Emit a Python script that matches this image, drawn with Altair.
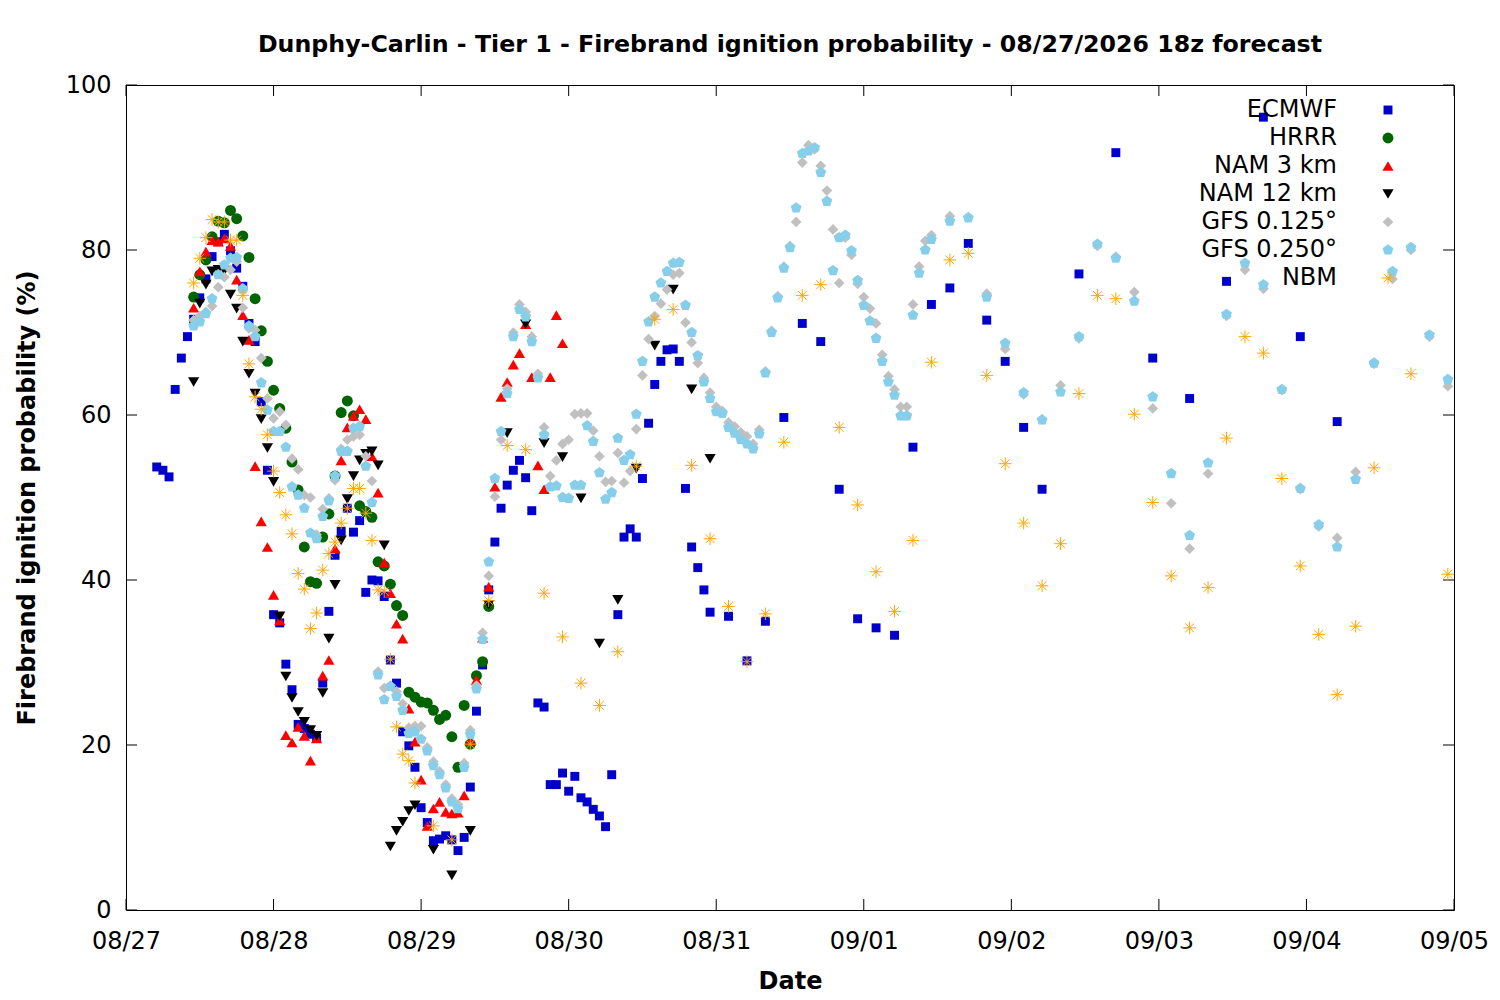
import altair as alt
import pandas as pd

# Hours after 08/27 00:00 (local), one time list per model run
ECMWF_HOURS = list(range(5, 96)) + list(range(98, 150, 3)) + list(range(155, 198, 6))
HRRR_HOURS = list(range(11, 60))
NAM3_HOURS = list(range(11, 72))
NAM12_HOURS = list(range(11, 48)) + list(range(50, 96, 3))
GFS_HOURS = list(range(11, 132)) + list(range(134, 216, 3))
NBM_HOURS = list(range(11, 48)) + list(range(50, 204, 3)) + [209, 215]

# Firebrand ignition probability (%)
ECMWF = [53.7, 53.3, 52.5, 63.1, 66.9, 69.5, 71.6, 74.2, 76.5, 79.2,
         81.0, 81.9, 79.9, 77.8, 75.6, 71.1, 68.9, 61.6, 53.3, 35.8,
         34.8, 29.8, 26.7, 22.5, 22.0, 21.3, 20.8, 27.5, 36.2, 43.0,
         45.9, 48.7, 45.8, 47.2, 38.5, 40.0, 39.9, 38.0, 30.3, 27.5,
         21.6, 19.9, 17.3, 12.4, 10.6, 8.4, 8.6, 9.0, 8.5, 7.2,
         8.8, 14.9, 24.1, 29.7, 38.8, 44.6, 48.7, 51.5, 53.3, 54.5,
         52.4, 48.4, 25.1, 24.6, 15.2, 15.2, 16.6, 14.4, 16.2, 13.6,
         13.1, 12.2, 11.4, 10.1, 16.4, 35.8, 45.2, 46.2, 45.2, 52.3,
         59.0, 63.7, 66.5, 67.9, 68.0, 66.5, 51.1, 44.0, 41.5, 38.8,
         36.1,
         35.6, 30.2, 35.0, 59.7, 71.1, 68.9, 51.0, 35.3, 34.2, 33.3,
         56.1, 73.4, 75.4, 80.8, 71.5, 66.5, 58.5, 51.0,
         77.1, 91.8, 66.9, 62.0, 76.2, 96.1, 69.5, 59.2]

HRRR = [74.3, 77.0, 78.8, 81.6, 83.5, 83.3, 84.8, 83.8, 81.7, 79.1,
        74.1, 70.2, 66.5, 63.0, 60.8, 58.4, 54.3, 50.9, 44.0, 39.8,
        39.6, 45.2, 48.0, 52.6, 60.3, 61.7, 59.9, 49.0, 48.3, 47.6,
        42.2, 41.7, 39.5, 36.9, 35.7, 26.4, 25.8, 25.2, 25.1, 24.2,
        23.1, 23.6, 21.0, 17.3, 24.8, 20.1, 28.4, 30.1, 36.8]

NAM3 = [73.0, 77.4, 79.8, 81.2, 81.0, 81.4, 80.5, 76.4, 72.1, 69.1,
        53.8, 47.1, 44.0, 38.2, 35.1, 21.2, 20.3, 22.2, 21.1, 18.1,
        20.8, 28.4, 30.3, 43.8, 54.5, 58.5, 59.9, 60.7, 59.5, 55.0,
        50.6, 42.1, 38.4, 34.7, 32.9, 24.4, 20.4, 15.8, 10.2, 12.3,
        13.1, 11.9, 11.7, 11.8, 13.9, 20.5, 27.9, 33.0, 39.2, 51.3,
        62.2, 64.0, 66.1, 67.5, 71.0, 64.6, 53.9, 51.0, 64.6, 72.1,
        68.7]

NAM12 = [64.0, 73.5, 75.8, 77.4, 77.6, 77.5, 74.6, 72.9, 68.9, 65.0,
         62.6, 59.5, 56.0, 51.9, 35.6, 28.3, 25.7, 24.0, 22.8, 21.8,
         21.1, 26.3, 32.9, 39.4, 44.8, 49.8, 52.6, 54.5, 55.3, 55.6,
         53.9, 44.2, 7.7, 9.6, 10.7, 12.0, 12.7,
         7.3, 4.2, 9.6, 37.0, 57.8, 71.0, 56.6, 54.9, 49.9, 32.3,
         37.6, 53.5, 68.4, 75.2, 63.1, 54.7]

GFS_0125 = [71.5, 72.0, 72.5, 73.2, 75.5, 76.7, 77.6, 78.6, 73.0, 70.5,
            70.3, 66.9, 62.0, 59.6, 60.4, 58.8, 54.7, 53.4, 50.3, 50.0,
            45.5, 48.6, 49.9, 52.1, 55.9, 57.0, 57.4, 57.6, 55.0, 52.0,
            28.9, 26.9, 27.2, 26.5, 25.0, 22.1, 22.3, 22.3, 19.7, 18.0,
            16.8, 15.2, 13.5, 12.8, 17.8, 21.8, 27.2, 33.6, 40.5, 50.1,
            57.0, 63.2, 70.0, 73.4, 72.5, 69.5, 65.0, 58.5, 52.6, 54.5,
            56.5, 57.0, 60.1, 60.2, 60.2, 58.1, 55.0, 51.9, 52.0, 55.4,
            51.8, 53.2, 58.3, 64.8, 69.2, 72.0, 73.5, 75.2, 77.0, 77.2,
            71.2, 68.8, 66.3, 64.5, 62.7, 61.0, 60.5, 59.1, 58.6, 57.9,
            57.4, 56.5, 58.2, 65.3, 70.2, 74.4, 78.0, 80.5, 83.4, 90.6,
            92.7, 92.2, 90.2, 87.2, 82.5, 76.0, 81.5, 79.4, 75.9, 74.3,
            72.9, 71.1, 67.3, 64.7, 63.1, 61.0, 61.0, 73.4, 78.0, 81.1,
            81.8,
            84.1, 84.0, 74.7, 68.0, 62.5, 59.5, 63.6, 69.3, 80.5, 79.2,
            74.9, 60.8, 49.3, 43.8, 52.9, 72.0, 77.6, 75.3, 63.0, 51.0,
            46.5, 45.1, 53.1, 66.2, 76.5, 80.0, 69.5, 63.5]

GFS_0250 = [70.8, 71.3, 72.3, 74.1, 77.0, 78.2, 79.0, 79.1, 75.3, 70.8,
            69.5, 63.9, 60.6, 58.0, 58.0, 56.1, 51.3, 50.3, 48.7, 45.7,
            45.0, 47.7, 49.6, 52.6, 55.6, 55.6, 58.4, 58.6, 53.8, 49.4,
            28.5, 25.5, 27.1, 25.9, 24.2, 21.4, 21.6, 20.7, 19.3, 17.5,
            16.4, 14.8, 13.1, 12.3, 17.3, 21.3, 26.8, 32.8, 42.2, 52.3,
            58.0, 62.6, 69.5, 72.8, 71.9, 68.9, 64.5, 57.6, 51.3, 51.4,
            50.0, 49.9, 51.5, 51.5, 58.7, 56.8, 53.0, 49.8, 50.6, 57.2,
            54.5, 55.2, 60.1, 66.5, 71.3, 74.3, 76.0, 77.4, 78.4, 78.5,
            73.3, 70.0, 67.2, 64.0, 62.0, 60.4, 60.2, 58.5, 57.8, 57.0,
            56.5, 55.9, 57.7, 65.1, 70.0, 74.2, 77.8, 80.3, 85.1, 91.7,
            92.0, 92.4, 89.4, 85.9, 77.5, 81.5, 81.8, 79.9, 76.3, 73.3,
            71.4, 69.3, 66.5, 64.0, 62.4, 59.9, 59.9, 72.1, 77.2, 80.0,
            81.3,
            83.5, 83.9, 74.3, 68.7, 62.7, 59.4, 62.8, 69.5, 80.7, 79.0,
            73.8, 62.2, 52.9, 45.4, 54.2, 72.2, 78.4, 75.8, 63.1, 51.1,
            46.7, 44.0, 52.2, 66.3, 77.4, 80.3, 69.7, 64.3]

NBM = [76.0, 79.0, 81.5, 83.7, 83.4, 83.4, 81.2, 81.2, 74.5, 66.2,
       62.2, 60.7, 57.6, 53.2, 50.6, 47.9, 45.6, 40.8, 38.9, 34.1,
       36.0, 41.2, 43.2, 44.6, 46.9, 48.7, 51.1, 51.1, 48.1, 44.8,
       38.8, 38.6, 30.4, 22.2, 18.9, 18.1, 15.4,
       10.2, 8.5, 20.1, 37.5, 56.3, 55.8, 38.4, 33.1, 27.5, 24.8,
       31.3, 53.8, 71.6, 72.8, 53.9, 45.0, 36.8, 30.1, 35.9, 56.7,
       74.5, 75.8, 58.5, 49.1, 41.0, 36.2, 44.8, 66.4, 78.8, 79.6,
       64.8, 54.1, 46.9, 39.3, 44.4, 62.6, 74.5, 74.1, 60.1, 49.4,
       40.5, 34.2, 39.1, 57.2, 69.5, 67.5, 52.3, 41.7, 33.4, 26.1,
       34.4, 53.6,
       65.0, 40.7]

DAY_HOURS = [0, 24, 48, 72, 96, 120, 144, 168, 192, 216]
DAY_LABELS = ["08/27", "08/28", "08/29", "08/30", "08/31",
              "09/01", "09/02", "09/03", "09/04", "09/05"]
PROB_TICKS = [0, 20, 40, 60, 80, 100]

MODELS = ["ECMWF", "HRRR", "NAM 3 km", "NAM 12 km", "GFS 0.125°", "GFS 0.250°", "NBM"]

FONT = "DejaVu Sans"
FS = 24
W, H = 1328, 825
TICK = 11

PENTAGON = "M0,-1L0.951,-0.309L0.588,0.809L-0.588,0.809L-0.951,-0.309Z"
STAR = "M-1,0L1,0M0,-1L0,1M-0.7,-0.7L0.7,0.7M-0.7,0.7L0.7,-0.7"

# marker style per model, in gnuplot drawing order
STYLES = [
    dict(shape="square", filled=True, color="#0000cd", size=80),
    dict(shape="circle", filled=True, color="#006400", size=120),
    dict(shape="triangle-up", filled=True, color="#ff0000", size=125),
    dict(shape="triangle-down", filled=True, color="#000000", size=125),
    dict(shape="diamond", filled=True, color="#c0c0c0", size=115),
    dict(shape=PENTAGON, filled=True, color="#87ceeb", size=130),
    dict(shape=STAR, filled=False, color="#ffa500", size=160, strokeWidth=1),
]
SERIES = [(ECMWF_HOURS, ECMWF), (HRRR_HOURS, HRRR), (NAM3_HOURS, NAM3),
          (NAM12_HOURS, NAM12), (GFS_HOURS, GFS_0125), (GFS_HOURS, GFS_0250),
          (NBM_HOURS, NBM)]

label_expr = "[" + ",".join("'%s'" % d for d in DAY_LABELS) + "][round(datum.value / 24)]"

X = alt.X("hour:Q",
          scale=alt.Scale(domain=[0, 216], nice=False, zero=False),
          axis=alt.Axis(values=DAY_HOURS, labelExpr=label_expr, ticks=False,
                        domain=False, grid=False, labelFont=FONT, labelFontSize=FS,
                        labelColor="black", labelPadding=19, labelFlush=False,
                        labelOverlap=False, title="Date", titleFont=FONT,
                        titleFontSize=FS, titleFontWeight="bold",
                        titleColor="black", titlePadding=16))
Y = alt.Y("prob:Q",
          scale=alt.Scale(domain=[0, 100], nice=False),
          axis=alt.Axis(values=PROB_TICKS, ticks=False, domain=False, grid=False,
                        labelFont=FONT, labelFontSize=FS, labelColor="black",
                        labelPadding=15, labelFlush=False, labelOverlap=False,
                        title="Firebrand ignition probability (%)", titleFont=FONT,
                        titleFontSize=FS, titleFontWeight="bold",
                        titleColor="black", titlePadding=26))

layers = []

# inward tick marks on all four sides (gnuplot style)
ytick_df = pd.DataFrame({"prob": PROB_TICKS})
xtick_df = pd.DataFrame({"hour": DAY_HOURS})
layers.append(alt.Chart(ytick_df).mark_rule(color="black", strokeWidth=1)
              .encode(y=Y, x=alt.value(0), x2=alt.value(TICK)))
layers.append(alt.Chart(ytick_df).mark_rule(color="black", strokeWidth=1)
              .encode(y=Y, x=alt.value(W - TICK), x2=alt.value(W)))
layers.append(alt.Chart(xtick_df).mark_rule(color="black", strokeWidth=1)
              .encode(x=X, y=alt.value(H), y2=alt.value(H - TICK)))
layers.append(alt.Chart(xtick_df).mark_rule(color="black", strokeWidth=1)
              .encode(x=X, y=alt.value(0), y2=alt.value(TICK)))

# model points
for (hours, vals), style in zip(SERIES, STYLES):
    df = pd.DataFrame({"hour": hours, "prob": vals})
    layers.append(alt.Chart(df).mark_point(opacity=1, **style).encode(x=X, y=Y))

# gnuplot-style key: right-aligned text, symbol to its right
for i, (name, style) in enumerate(zip(MODELS, STYLES)):
    ky = 25 + 28 * i
    key_df = pd.DataFrame({"name": [name]})
    layers.append(alt.Chart(key_df).mark_text(align="right", baseline="middle",
                                              font=FONT, fontSize=FS, color="black")
                  .encode(text="name:N", x=alt.value(1211), y=alt.value(ky)))
    layers.append(alt.Chart(key_df).mark_point(opacity=1, **style)
                  .encode(x=alt.value(1262), y=alt.value(ky)))

chart = alt.layer(*layers).properties(
    width=W, height=H,
    title=alt.TitleParams(
        "Dunphy-Carlin - Tier 1 - Firebrand ignition probability - 08/27/2026 18z forecast",
        font=FONT, fontSize=23.7, fontWeight="bold", color="black",
        anchor="middle", frame="group", offset=16),
    autosize=alt.AutoSizeParams(type="none"),
    padding={"left": 118, "top": 77, "right": 38, "bottom": 88},
    background="white",
).configure_view(stroke="black", strokeWidth=1)

chart.save("out.html", embed_options={"renderer": "svg", "actions": False})
